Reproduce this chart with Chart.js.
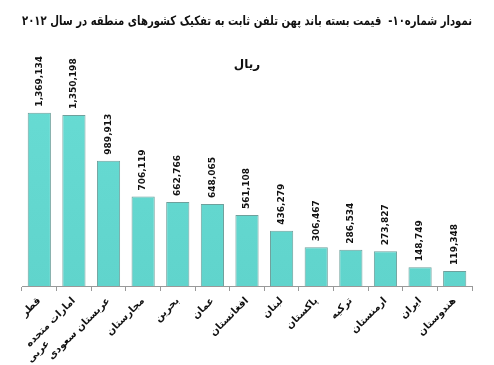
<!DOCTYPE html>
<html>
<head>
<meta charset="utf-8">
<script src="https://cdn.jsdelivr.net/npm/chart.js@4"></script>
<style>
  html, body { margin: 0; padding: 0; background: #fff; }
  #wrap { width: 494px; height: 365px; }
</style>
</head>
<body>
<div id="wrap"><canvas id="myChart"></canvas></div>
<script>
// data
const countries = ['قطر', ['امارات متحده', 'عربی' + '\u00a0'.repeat(14)], 'عربستان سعودی', 'مجارستان', 'بحرین', 'عمان', 'افغانستان',
  'لبنان', 'پاکستان', 'ترکیه', 'ارمنستان', 'ایران', 'هندوستان'];
const prices = [1369134, 1350198, 989913, 706119, 662766, 648065, 561108, 436279, 306467, 286534, 273827, 148749, 119348];

const titleText = 'نمودار شماره۱۰-  قیمت بسته باند پهن تلفن ثابت به تفکیک کشورهای منطقه در سال ۲۰۱۲';
const unitText = 'ریال';

// value labels drawn vertically above each bar
const valueLabels = {
  id: 'valueLabels',
  afterDatasetsDraw(chart) {
    const ctx = chart.ctx;
    const meta = chart.getDatasetMeta(0);
    ctx.save();
    ctx.font = 'bold 9px "DejaVu Sans", sans-serif';
    ctx.fillStyle = '#111';
    ctx.textAlign = 'left';
    ctx.textBaseline = 'middle';
    meta.data.forEach((bar, i) => {
      ctx.save();
      ctx.translate(bar.x, bar.y - 6);
      ctx.rotate(-Math.PI / 2);
      ctx.fillText(prices[i].toLocaleString('en-US'), 0, 0);
      ctx.restore();
    });
    ctx.restore();
  }
};

const barFill = (context) => {
  const chart = context.chart;
  const area = chart.chartArea;
  if (!area) return 'rgb(100,216,208)';
  const g = chart.ctx.createLinearGradient(0, area.top, 0, area.bottom);
  g.addColorStop(0, 'rgb(104,220,212)');
  g.addColorStop(1, 'rgb(96,212,204)');
  return g;
};

const config = {
  type: 'bar',
  data: {
    labels: countries,
    datasets: [{
      data: prices,
      backgroundColor: barFill,
      borderColor: 'rgb(110,160,156)',
      borderWidth: 1,
      barPercentage: 0.67,
      categoryPercentage: 1
    }]
  },
  options: {
    responsive: true,
    maintainAspectRatio: false,
    animation: false,
    layout: { padding: { top: 14, left: 22, right: 22, bottom: 0 } },
    scales: {
      x: {
        grid: { offset: true, drawOnChartArea: false, tickLength: 5, color: '#999' },
        border: { color: '#999' },
        ticks: {
          autoSkip: false,
          maxRotation: 45,
          minRotation: 45,
          padding: 4,
          color: '#111',
          font: { family: '"DejaVu Sans", sans-serif', size: 10, weight: 'bold' }
        },
        afterFit(scale) { scale.height = 79; }
      },
      y: {
        display: false,
        min: 0,
        max: 1690000
      }
    },
    plugins: {
      legend: { display: false },
      tooltip: { enabled: false },
      title: {
        display: true,
        text: titleText,
        color: '#111',
        font: { family: '"DejaVu Sans", sans-serif', size: 13, weight: 'bold' },
        padding: { top: 0, bottom: 28 }
      },
      subtitle: {
        display: true,
        text: unitText,
        color: '#111',
        font: { family: '"DejaVu Sans", sans-serif', size: 12, weight: 'bold' },
        padding: { top: 0, bottom: 0 }
      }
    }
  },
  plugins: [valueLabels]
};

const myChart = new Chart(document.getElementById('myChart'), config);
</script>
</body>
</html>
